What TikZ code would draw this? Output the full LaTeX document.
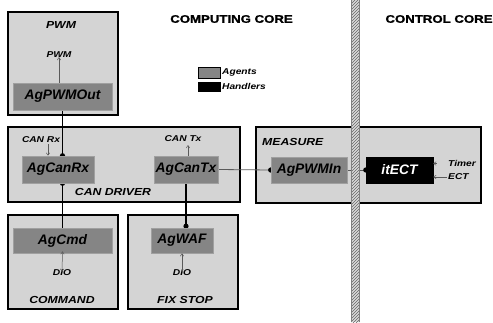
\documentclass[tikz,border=0pt]{standalone}
\usepackage{fontspec}
\setmainfont{Liberation Sans}
\newfontfamily\widefont{Liberation Sans}[FakeStretch=1.2]
\newfontfamily\titlefont{Liberation Sans}[FakeStretch=1.2,FakeBold=1.5]
\usetikzlibrary{arrows.meta,patterns}
\definecolor{boxbg}{HTML}{D4D4D4}
\definecolor{agentbg}{HTML}{858585}
\definecolor{agentline}{HTML}{A0A0A0}
\definecolor{sigline}{HTML}{5A5A5A}
\pgfdeclarelayer{outerlayer}
\pgfdeclarelayer{wirelayer}
\pgfdeclarelayer{toplayer}
\pgfsetlayers{outerlayer,wirelayer,main,toplayer}
\tikzset{
  outerbox/.style={draw=black, line width=1.3pt, fill=boxbg, inner sep=0pt},
  agentbox/.style={draw=agentline, line width=0.6pt, fill=agentbg, inner sep=0pt,
    font=\fontsize{13.8}{14}\selectfont\bfseries\itshape},
  handlerbox/.style={draw=black, fill=black, text=white, inner sep=0pt,
    font=\fontsize{13.8}{14}\selectfont\bfseries\itshape},
  lbl/.style={inner sep=0pt, font=\widefont\fontsize{8.5}{9}\selectfont\bfseries\itshape},
  caption/.style={inner sep=0pt, font=\widefont\fontsize{10.2}{11}\selectfont\bfseries\itshape},
  coretitle/.style={inner sep=0pt, font=\titlefont\fontsize{11}{12}\selectfont\bfseries},
  bus/.style={draw=black, line width=1.6pt},
  link/.style={draw=sigline, line width=0.8pt},
  sig/.style={draw=sigline, line width=0.5pt, -{Straight Barb[length=2.5pt,width=3.5pt]}},
  sigboth/.style={draw=sigline, line width=0.5pt,
    {Straight Barb[length=2.5pt,width=3.5pt]}-{Straight Barb[length=2.5pt,width=3.5pt]}},
  dot/.style={fill=black, draw=none},
}
\begin{document}
\begin{tikzpicture}[x=1pt,y=-1pt]
\useasboundingbox (0,0) rectangle (493,322);

% module frames
\begin{pgfonlayer}{outerlayer}
  \node[outerbox, minimum width=110pt, minimum height=103pt] (pwm) at (63,63.5) {};
  \node[outerbox, minimum width=232pt, minimum height=75pt] (candrv) at (124,164.5) {};
  \node[outerbox, minimum width=225pt, minimum height=76pt] (measure) at (368.5,165) {};
  \node[outerbox, minimum width=110pt, minimum height=94pt] (command) at (63,262) {};
  \node[outerbox, minimum width=110pt, minimum height=94pt] (fixstop) at (183,262) {};
\end{pgfonlayer}

% core titles
\node[coretitle] (comptitle) at (231.5,19) {COMPUTING CORE};
\node[coretitle] (ctrltitle) at (439,19) {CONTROL CORE};

% legend
\node[draw=black, line width=0.5pt, fill=agentbg, minimum width=22pt, minimum height=11pt, inner sep=0pt] (legagent) at (209,72.5) {};
\node[draw=black, fill=black, minimum width=22pt, minimum height=9pt, inner sep=0pt] (leghandler) at (209,86.5) {};
\node[lbl, anchor=west] (legagenttxt) at (222,72.5) {Agents};
\node[lbl, anchor=west] (leghandlertxt) at (222,86.5) {Handlers};

% agents and handler
\node[agentbox, minimum width=99pt, minimum height=27pt] (pwmout) at (62.5,96.5) {AgPWMOut};
\node[agentbox, minimum width=72pt, minimum height=27pt] (canrx) at (58,169.5) {AgCanRx};
\node[agentbox, minimum width=64pt, minimum height=27pt] (cantx) at (186,169.5) {AgCanTx};
\node[agentbox, minimum width=99pt, minimum height=25pt] (cmd) at (62.5,240.5) {AgCmd};
\node[agentbox, minimum width=62pt, minimum height=25pt] (waf) at (182,240.5) {AgWAF};
\node[agentbox, minimum width=76pt, minimum height=26pt] (pwmin) at (309,170) {AgPWMIn};
\node[handlerbox, minimum width=67pt, minimum height=26pt] (itect) at (399.5,170) {itECT};

% module captions
\node[caption] (pwmcap) at (61,25) {PWM};
\node[caption] (candrvcap) at (113,192) {CAN DRIVER};
\node[caption, anchor=west] (measurecap) at (262,142) {MEASURE};
\node[caption] (commandcap) at (62,300) {COMMAND};
\node[caption] (fixstopcap) at (185,300) {FIX STOP};

% signal labels
\node[lbl] (pwmsig) at (59,55) {PWM};
\node[lbl] (canrxsig) at (41,140) {CAN Rx};
\node[lbl] (cantxsig) at (183,139) {CAN Tx};
\node[lbl] (dio1) at (62,273) {DIO};
\node[lbl] (dio2) at (182,273) {DIO};
\node[lbl, anchor=west] (timersig) at (448,163.5) {Timer};
\node[lbl, anchor=west] (ectsig) at (448,177) {ECT};

% signal arrows
\coordinate (rxin) at (48,144);
\coordinate (txout) at (188,145);
\coordinate (timerin) at (436.5,163.5);
\draw[sig] (pwmout.north -| pwmsig.south) -- ([yshift=1pt]pwmsig.south);
\draw[sig] (rxin) -- (rxin |- canrx.north);
\draw[sig] (cantx.north -| txout) -- (txout);
\draw[sigboth] ([yshift=2pt]cmd.south) -- ([yshift=-2pt]dio1.north);
\draw[sig] ([yshift=-2pt]dio2.north) -- (waf.south -| dio2.north);
\draw[sig] (timerin) -- (timerin -| itect.east);
\draw[sig] ([xshift=-1pt]ectsig.west) -- (ectsig.west -| itect.east);

% wiring between agents
\begin{pgfonlayer}{wirelayer}
  \draw[bus] (pwmout.south) -- (pwmout.south |- canrx.north);
  \fill[dot] (pwmout.south |- canrx.north) circle (2.6pt);
  \draw[bus] (canrx.south -| cmd.north) -- (cmd.north);
  \fill[dot] (canrx.south -| cmd.north) circle (2.6pt);
  \draw[bus] (cantx.south) -- (cantx.south |- waf.north);
  \fill[dot] ([yshift=1.5pt]cantx.south |- waf.north) circle (2.6pt);
  \draw[link] (cantx.east) -- (pwmin.west);
  \fill[dot] (pwmin.west) circle (2.6pt);
  \draw[link] (pwmin.east) -- (itect.west);
  \fill[dot] (itect.west) circle (2.6pt);
\end{pgfonlayer}

% boundary between the two cores
\begin{pgfonlayer}{toplayer}
  \fill[fill=black!15] (351,0) rectangle (359,322);
  \fill[pattern=north east lines, pattern color=black!60] (351,0) rectangle (359,322);
  \draw[black!50, line width=0.4pt] (351,0) -- (351,322) (359,0) -- (359,322);
\end{pgfonlayer}
\end{tikzpicture}
\end{document}
